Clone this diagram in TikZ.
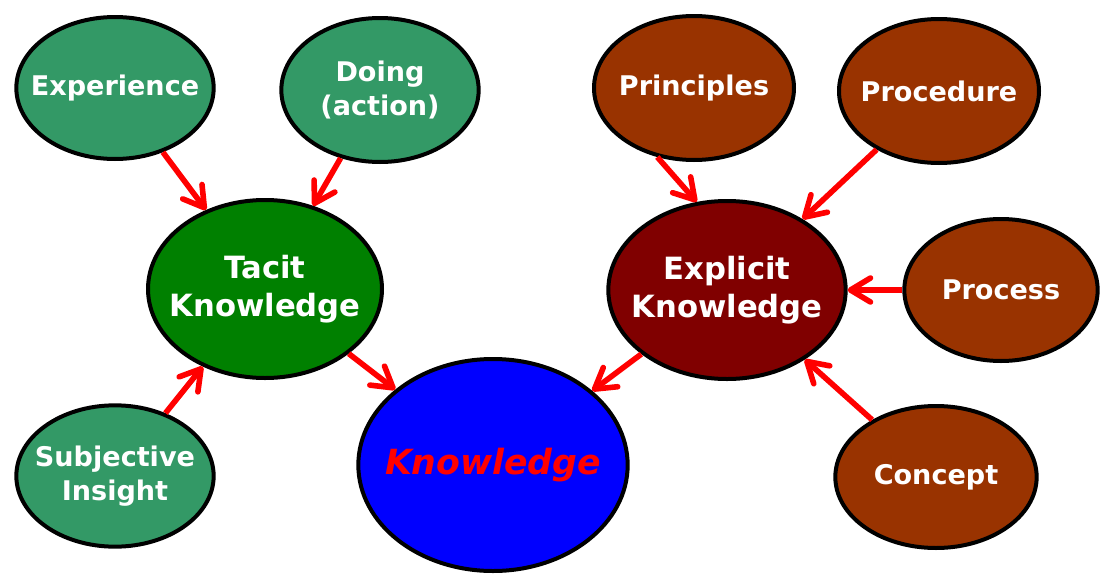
\documentclass[tikz,border=0pt]{standalone}
\usepackage{fontspec}
\setmainfont{DejaVu Sans}
\usetikzlibrary{shapes.geometric,arrows.meta}

\definecolor{leafgreen}{RGB}{51,153,102}
\definecolor{tacitgreen}{RGB}{0,128,0}
\definecolor{rust}{RGB}{153,51,0}
\definecolor{darkmaroon}{RGB}{128,0,0}

\tikzset{every picture/.style={line width=0.75pt}}
\tikzset{
  bubble/.style={ellipse, draw=black, line width=3pt, inner xsep=-20pt, inner ysep=0pt, text=white, align=center, font=\bfseries\fontsize{20.3}{26}\selectfont},
  bigbubble/.style={bubble, font=\bfseries\fontsize{23}{28}\selectfont},
  feed/.style={draw=red, line width=4.2pt, -{Straight Barb[length=15pt,width=18pt,line cap=round,line join=round]}}
}

\begin{document}
\begin{tikzpicture}[x=0.75pt,y=0.75pt,yscale=-1,xscale=1]
	\useasboundingbox (0,0) rectangle (1111,582);

	%Shape: Ellipse [Experience]
	\node [bubble, fill=leafgreen, minimum width=148pt, minimum height=106.5pt] (experience) at (115,88) {Experience};
	%Shape: Ellipse [Doing]
	\node [bubble, fill=leafgreen, minimum width=148pt, minimum height=108pt] (doing) at (380,90) {Doing\\(action)};
	%Shape: Ellipse [Subjective Insight]
	\node [bubble, fill=leafgreen, minimum width=148pt, minimum height=106pt] (insight) at (115,476) {Subjective\\Insight};
	%Shape: Ellipse [Tacit]
	\node [bigbubble, fill=tacitgreen, minimum width=175.5pt, minimum height=133.5pt] (tacit) at (265,289) {Tacit\\Knowledge};

	%Shape: Ellipse [Principles]
	\node [bubble, fill=rust, minimum width=150pt, minimum height=108pt] (principles) at (694,88) {Principles};
	%Shape: Ellipse [Procedure]
	\node [bubble, fill=rust, minimum width=150pt, minimum height=108pt] (procedure) at (939,91) {Procedure};
	%Shape: Ellipse [Process]
	\node [bubble, fill=rust, minimum width=145pt, minimum height=106.5pt] (process) at (1001,290) {Process};
	%Shape: Ellipse [Concept]
	\node [bubble, fill=rust, minimum width=151pt, minimum height=106.5pt] (concept) at (936,477) {Concept};
	%Shape: Ellipse [Explicit]
	\node [bigbubble, fill=darkmaroon, minimum width=178pt, minimum height=133.5pt] (explicit) at (727,290) {Explicit\\Knowledge};

	%Shape: Ellipse [Knowledge]
	\node [bubble, fill=blue, text=red, minimum width=202pt, minimum height=159pt, font=\bfseries\itshape\fontsize{26}{31}\selectfont] (knowledge) at (493,465) {Knowledge};

	%Straight Lines
	\draw [feed] (experience) -- (tacit);
	\draw [feed] (doing) -- (tacit);
	\draw [feed] (insight) -- (tacit);
	\draw [feed] (tacit) -- (knowledge);
	%Straight Lines
	\draw [feed] (principles.242) -- (explicit.109);
	\draw [feed] (procedure) -- (explicit);
	\draw [feed] (process) -- (explicit);
	\draw [feed] (concept) -- (explicit);
	\draw [feed] (explicit) -- (knowledge);

\end{tikzpicture}
\end{document}
